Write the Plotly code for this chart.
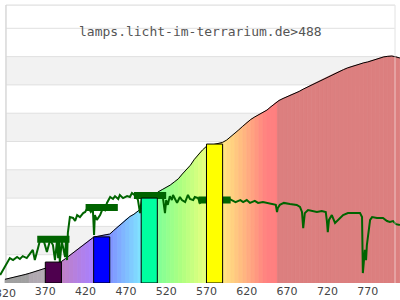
import plotly.graph_objects as go

# ---------------- data ----------------
title_text = "lamps.licht-im-terrarium.de>488"
tick_vals = [320, 370, 420, 470, 520, 570, 620, 670, 720, 770]
tick_text = ["320", "370", "420", "470", "520", "570", "620", "670", "720", "770"]

# reference curve (filled rainbow area)
curve_nm = [320, 325, 330, 335, 340, 345, 350, 355, 360, 365, 370, 375, 380, 385, 390,
            395, 400, 405, 410, 415, 420, 425, 430, 435, 440, 445, 450, 455, 460, 465,
            470, 475, 480, 485, 490, 495, 500, 505, 510, 515, 520, 525, 530, 535, 540,
            545, 550, 555, 560, 565, 570, 575, 580, 585, 590, 595, 600, 605, 610, 615,
            620, 625, 630, 635, 640, 645, 650, 655, 658, 660, 665, 670, 675, 680, 685,
            690, 695, 700, 705, 710, 715, 720, 725, 730, 735, 740, 745, 750, 755, 760,
            765, 770, 775, 780, 785, 790, 795, 800, 805, 810]
curve_val = [0.13, 0.16, 0.19, 0.23, 0.26, 0.30, 0.34, 0.38, 0.43, 0.47, 0.52, 0.58, 0.64, 0.70, 0.76,
             0.86, 0.97, 1.08, 1.19, 1.30, 1.41, 1.52, 1.62, 1.65, 1.68, 1.71, 1.73, 1.86, 1.99, 2.12,
             2.25, 2.35, 2.43, 2.54, 2.65, 2.80, 2.95, 3.09, 3.22, 3.30, 3.38, 3.46, 3.57, 3.68, 3.85,
             4.01, 4.16, 4.37, 4.55, 4.70, 4.83, 4.87, 4.90, 4.93, 4.97, 5.05, 5.16, 5.28, 5.41, 5.54,
             5.67, 5.78, 5.87, 5.95, 6.03, 6.11, 6.23, 6.35, 6.41, 6.45, 6.52, 6.58, 6.65, 6.71, 6.77,
             6.85, 6.92, 7.00, 7.07, 7.14, 7.21, 7.28, 7.35, 7.42, 7.48, 7.54, 7.60, 7.65, 7.69, 7.73,
             7.78, 7.81, 7.86, 7.90, 7.95, 7.99, 8.01, 8.02, 7.99, 7.95]

# lamp spectrum (dark green line)
spec_nm = [314, 317.5, 322.5, 326, 330, 335, 338.5, 342, 347, 351, 354.5, 357, 359.5, 361,
           363.5, 368.5, 372, 376, 379.5, 382, 384.5, 386, 387, 388, 390.5, 394.5, 395.5, 397,
           398, 400.5, 404.5, 407, 409.5, 413, 417, 419.5,
           423, 426.5, 429, 430.5, 431.5, 434, 438, 441.5, 444, 446.5, 450.5, 454, 456.5, 460.5,
           462.5, 466.5, 471.5, 475, 477.5,
           482.5, 485, 487.5, 490, 496, 500, 506, 512.5, 516, 518.5, 520, 522, 524.5, 527, 528.5,
           531, 533.5, 537, 539.5, 543.5, 547, 549.5, 553.5, 555.5, 559.5, 562, 566,
           598.5, 603.5, 606, 612, 615.5, 620, 624, 630, 634, 640, 645, 652.5, 656, 657.5,
           658.5, 661, 666, 673.5, 682, 686, 688.5, 690, 692, 696, 701, 707, 713, 718, 719.5,
           720.5, 722, 725.5, 729.5, 733, 737, 739.5, 745.5, 752, 760.5, 763, 764, 766.5, 768,
           769, 770.5, 773, 775.5, 781.5, 789, 794, 797.5, 801.5, 805, 810]
spec_val = [0.28, 0.46, 0.71, 0.88, 0.81, 0.92, 0.85, 0.95, 0.88, 1.02, 1.17, 0.81, 1.13, 1.24,
            1.52, 1.45, 1.10, 1.52, 1.34, 0.81, 1.48, 0.88, 1.45, 0.74, 1.48, 0.92, 1.45, 0.81,
            1.77, 2.33, 2.30, 2.19, 2.40, 2.33, 2.47, 2.51,
            2.69, 2.51, 2.61, 1.70, 2.40, 2.23, 2.40, 2.65, 2.58, 2.83, 3.04, 2.97, 3.07, 2.97,
            3.11, 3.00, 3.07, 3.04, 3.18,
            3.07, 2.93, 2.47, 3.04, 2.83, 3.11, 3.04, 3.11, 3.00, 2.47, 2.93, 2.76, 3.07, 2.93, 3.11,
            2.97, 2.83, 3.04, 2.93, 2.86, 3.11, 2.97, 2.93, 3.04, 3.00, 2.83, 2.93,
            2.97, 2.90, 2.86, 2.93, 2.86, 2.93, 2.83, 2.90, 2.83, 2.86, 2.83, 2.79, 2.76, 2.51,
            2.65, 2.76, 2.83, 2.79, 2.76, 2.69, 2.51, 1.94, 2.47, 2.58, 2.54, 2.51, 2.54, 2.51, 2.16,
            1.80, 2.23, 2.40, 2.12, 2.23, 2.33, 2.40, 2.47, 2.47, 2.47, 2.33, 0.35, 1.17, 0.81,
            1.34, 1.63, 2.23, 2.33, 2.30, 2.30, 2.19, 2.16, 2.19, 2.08, 2.05]

# band averages (thick green markers)
band_center = [380, 440, 500, 580]
band_value = [1.55, 2.67, 3.09, 2.93]

# LED bars
bar_center = [380, 440, 499, 580]
bar_value = [0.74, 1.63, 3.00, 4.91]
bar_color = ["#4e004e", "#0000ff", "#00ffa0", "#ffff00"]

# ---------------- styles ----------------
GREEN = "#006400"
BAR_W = 20
BAND_HALF = 20
X_RANGE = [313.8, 810.1]
FRAME_L, FRAME_R, FRAME_T = 321.2, 803.9, 9.82
TICK_FONT = dict(family="DejaVu Sans", size=11, color="#444444")

color_stops = [
    (300, "#a0a0a0"), (349.5, "#a0a0a0"), (350.5, "#b0a8b0"), (370, "#b4acb4"),
    (390, "#c080c4"), (430, "#a880ff"), (450, "#8090ff"), (490, "#80e6ff"),
    (510, "#80ff98"), (540, "#b0ff80"), (570, "#e8ff80"), (590, "#ffe880"),
    (620, "#ffb080"), (645, "#ff8080"), (656.9, "#ff8080"), (657.1, "#dc7f7f"),
    (900, "#dc7f7f"),
]


def h2r(h):
    h = h.lstrip("#")
    return tuple(int(h[i:i + 2], 16) for i in (0, 2, 4))


def color_at(w):
    for (w0, c0), (w1, c1) in zip(color_stops[:-1], color_stops[1:]):
        if w0 <= w <= w1:
            t = (w - w0) / (w1 - w0) if w1 > w0 else 0
            a, b = h2r(c0), h2r(c1)
            r = [round(a[k] + (b[k] - a[k]) * t) for k in range(3)]
            return "rgb(%d,%d,%d)" % tuple(r)
    return color_stops[-1][1]


fig = go.Figure()

# rainbow fill as polygons between consecutive curve points
for i in range(len(curve_nm) - 1):
    w0, w1 = curve_nm[i], curve_nm[i + 1]
    col = color_at((w0 + w1) / 2)
    fig.add_trace(go.Scatter(
        x=[w0, w1, w1, w0, w0], y=[curve_val[i], curve_val[i + 1], 0, 0, curve_val[i]],
        mode="lines", fill="toself", fillcolor=col,
        line=dict(color=col, width=0.8), hoverinfo="skip"))

# black outline of the curve
fig.add_trace(go.Scatter(x=curve_nm, y=curve_val, mode="lines",
                         line=dict(color="black", width=1), hoverinfo="skip"))

# band markers
for c, v in zip(band_center, band_value):
    fig.add_trace(go.Scatter(x=[c - BAND_HALF, c + BAND_HALF], y=[v, v], mode="lines",
                             line=dict(color=GREEN, width=7), hoverinfo="skip"))

# spectrum line
fig.add_trace(go.Scatter(x=spec_nm, y=spec_val, mode="lines",
                         line=dict(color=GREEN, width=2), hoverinfo="skip"))

# bars (drawn as polygons so they sit above the lines)
for c, v, col in zip(bar_center, bar_value, bar_color):
    x0, x1 = c - BAR_W / 2, c + BAR_W / 2
    fig.add_trace(go.Scatter(x=[x0, x0, x1, x1, x0], y=[0, v, v, 0, 0], mode="lines",
                             fill="toself", fillcolor=col,
                             line=dict(color="black", width=1), hoverinfo="skip"))

shapes = []
for y0 in [1, 3, 5, 7]:
    shapes.append(dict(type="rect", xref="x", yref="y", x0=FRAME_L, x1=FRAME_R, y0=y0, y1=y0 + 1,
                       fillcolor="#f2f2f2", line=dict(width=0), layer="below"))
for y in range(0, 10):
    shapes.append(dict(type="line", xref="x", yref="y", x0=FRAME_L, x1=FRAME_R, y0=y, y1=y,
                       line=dict(color="#e0e0e0", width=1), layer="below"))
shapes.append(dict(type="line", xref="x", yref="y", x0=FRAME_L, x1=FRAME_R, y0=FRAME_T, y1=FRAME_T,
                   line=dict(color="#d8d8d8", width=1), layer="below"))
shapes.append(dict(type="line", xref="x", yref="y", x0=FRAME_L, x1=FRAME_L, y0=0, y1=FRAME_T,
                   line=dict(color="#d8d8d8", width=1.5), layer="below"))
shapes.append(dict(type="line", xref="x", yref="y", x0=FRAME_R, x1=FRAME_R, y0=0, y1=FRAME_T,
                   line=dict(color="#d8d8d8", width=1), layer="below"))
shapes.append(dict(type="line", xref="x", yref="y", x0=FRAME_R, x1=FRAME_R, y0=0, y1=FRAME_T,
                   line=dict(color="rgba(255,255,255,0.55)", width=1), layer="above"))

annotations = [
    dict(text=title_text, xref="paper", yref="paper", x=0.5, y=0.89,
         xanchor="center", yanchor="middle", showarrow=False,
         font=dict(family="DejaVu Sans Mono", size=13, color="#555555")),
    # first tick label, partly cut by the left edge as in the original
    dict(text=tick_text[0], xref="x", yref="paper", x=tick_vals[0], y=0,
         xanchor="center", yanchor="top", yshift=-2, showarrow=False, font=TICK_FONT),
]

fig.update_layout(
    width=400, height=300,
    margin=dict(l=0, r=0, t=0, b=17),
    paper_bgcolor="white", plot_bgcolor="white",
    showlegend=False,
    shapes=shapes,
    annotations=annotations,
    xaxis=dict(range=X_RANGE, tickvals=tick_vals[1:], ticktext=tick_text[1:],
               showgrid=False, zeroline=False, showline=False, ticks="",
               tickfont=TICK_FONT),
    yaxis=dict(range=[0, 10], visible=False, showgrid=False, zeroline=False),
)

fig.write_html("out.html")
